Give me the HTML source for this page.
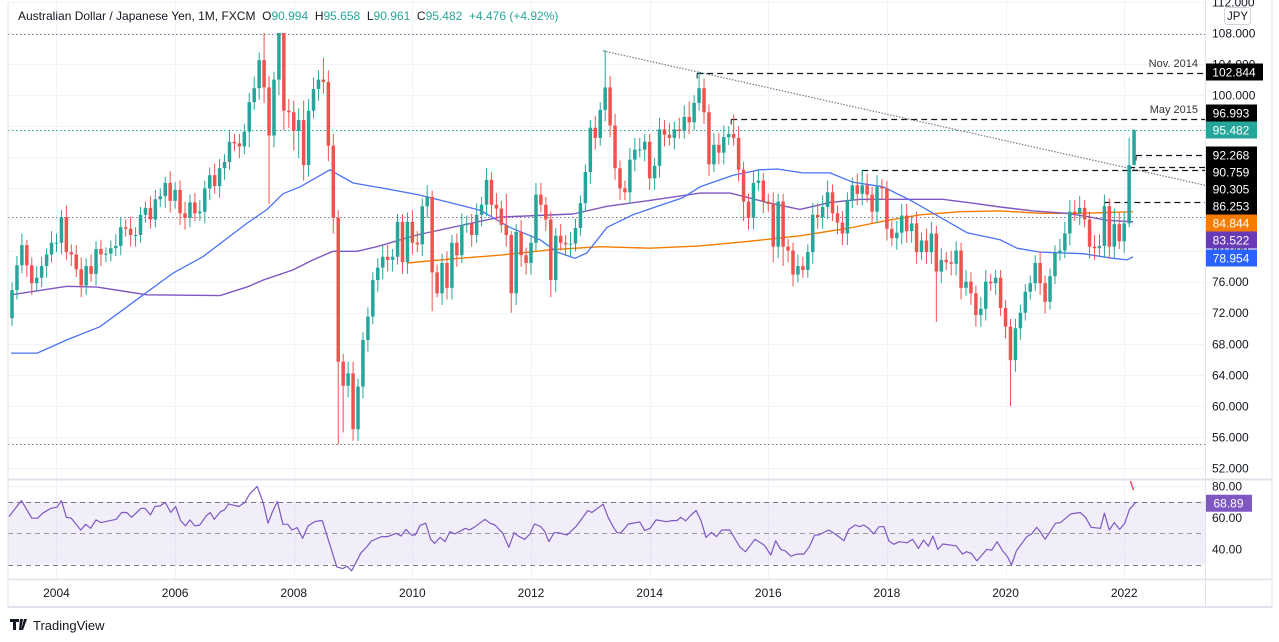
<!DOCTYPE html>
<html><head><meta charset="utf-8"><style>
html,body{margin:0;padding:0;background:#fff;width:1279px;height:642px;overflow:hidden}
svg{display:block;font-family:"Liberation Sans",sans-serif}
</style></head><body>
<svg id="chart" width="1279" height="642" viewBox="0 0 1279 642" xmlns="http://www.w3.org/2000/svg">
<rect x="0" y="0" width="1279" height="642" fill="#fff"/>
<g id="grid"></g>
<g id="levels"></g>
<g id="mas"></g>
<g id="candles"></g>
<g id="rsi"></g>
<g id="axes"></g>
<g id="frame">
<line x1="8" y1="2" x2="8" y2="607" stroke="#e0e3eb"/>
<line x1="8" y1="607" x2="1272" y2="607" stroke="#e0e3eb" stroke-width="2"/>
<line x1="1272" y1="0" x2="1272" y2="607" stroke="#e0e3eb"/>
<line x1="1205.5" y1="0" x2="1205.5" y2="607" stroke="#e0e3eb"/>
<line x1="8" y1="479.5" x2="1272" y2="479.5" stroke="#e0e3eb" stroke-width="2"/>
<line x1="8" y1="579.5" x2="1272" y2="579.5" stroke="#e0e3eb" stroke-width="1.5"/>
</g>
<text x="18" y="20" font-size="12" fill="#131722" xml:space="preserve">Australian Dollar / Japanese Yen, 1M, FXCM  O<tspan fill="#26a69a">90.994</tspan>  H<tspan fill="#26a69a">95.658</tspan>  L<tspan fill="#26a69a">90.961</tspan>  C<tspan fill="#26a69a">95.482</tspan>  <tspan fill="#26a69a">+4.476 (+4.92%)</tspan></text>
<rect x="1224.5" y="7.5" width="26" height="17" rx="3" fill="#fff" stroke="#d1d4dc"/>
<text x="1237.5" y="20" font-size="11.5" fill="#131722" text-anchor="middle">JPY</text>
<text x="1198" y="67" font-size="11" fill="#333" text-anchor="end">Nov. 2014</text>
<text x="1198" y="113" font-size="11" fill="#333" text-anchor="end">May 2015</text>
<g>
<path d="M10 619h9v3h-3v8h-3v-8h-3z M20 619h3l-2 11h-2z M24 619h3l-4 11h-2z" fill="#131722"/>
<text x="33" y="630" font-size="13" fill="#131722">TradingView</text>
</g>
</svg>
<script>
const closes=[74.9,78.1,80.7,78.1,75.8,76.5,78.0,79.5,81.0,81.0,84.3,79.8,
79.5,77.6,75.5,78.0,77.0,80.2,79.5,79.6,80.3,80.6,83.0,82.8,
82.0,82.0,84.6,85.5,84.0,86.6,87.0,88.7,86.4,87.8,84.8,84.2,
86.2,84.8,85.0,88.0,89.7,88.3,90.6,91.4,94.0,93.8,93.4,95.3,
99.1,100.9,104.5,101.0,94.8,102.0,108.0,98.0,97.8,95.4,96.8,91.0,
98.0,100.8,102.0,101.7,93.5,84.2,65.7,62.6,64.2,57.0,62.5,68.5,
71.5,76.2,77.8,79.2,78.8,79.2,83.7,78.5,83.7,81.0,80.8,85.7,
86.9,77.2,74.5,78.4,75.2,81.0,79.4,83.3,83.5,82.0,84.6,85.9,
89.1,85.9,85.4,83.3,82.0,74.5,82.4,79.4,78.4,81.0,87.2,85.9,
84.0,76.2,81.9,81.0,80.8,80.9,82.9,86.1,90.1,95.8,94.5,98.1,
101.0,96.1,90.6,88.0,87.5,91.7,93.0,93.0,94.0,89.3,90.9,95.6,
94.9,94.5,95.6,95.4,97.2,96.5,99.0,100.9,97.8,91.1,93.6,92.6,
94.6,95.0,94.5,90.4,86.3,84.2,88.7,89.0,86.3,86.0,80.5,86.3,
80.5,80.0,76.9,78.0,77.5,79.8,84.6,84.3,85.6,87.5,84.8,83.6,
82.2,86.5,88.4,87.3,88.4,87.2,85.0,88.2,88.0,82.8,81.6,82.3,
84.5,82.5,83.5,79.8,81.3,79.8,82.2,77.3,78.8,78.5,78.3,80.0,
75.2,76.0,74.5,71.7,72.5,76.0,75.8,76.5,72.6,70.2,65.9,70.0,
72.0,74.7,75.8,78.4,75.8,73.4,76.7,79.7,80.0,82.2,85.0,84.8,
85.5,84.0,80.5,80.3,80.6,85.7,80.5,83.4,81.2,83.5,91.0,95.482];
const firstOpen=71.3;
const upperShadow=[1.0,1.2,1.5,0.7,1.0,1.5,1.2,0.8,1.5,1.2,0.9,1.5,
1.0,1.2,1.5,1.0,1.5,1.0,1.2,0.8,1.0,1.5,1.2,1.0,
1.5,1.0,1.0,0.8,1.5,1.2,1.0,0.8,1.5,1.0,1.2,1.5,
1.0,1.2,1.5,1.0,1.0,1.5,1.2,1.0,1.5,1.0,1.2,1.0,
1.2,1.5,1.0,3.5,1.5,1.0,0.0,0.0,1.5,1.5,1.5,2.5,
1.5,1.5,1.2,2.8,1.5,1.5,1.0,1.0,1.5,1.5,1.0,1.0,
1.2,1.0,1.2,1.5,1.5,1.0,1.0,1.0,1.2,1.5,1.5,1.0,
1.5,0.8,1.0,1.2,1.5,1.0,1.2,1.5,1.0,1.2,1.5,1.0,
1.5,1.0,1.5,1.0,4.0,0.5,1.0,1.5,1.0,1.0,1.5,1.5,
1.0,1.0,1.0,1.5,1.0,1.5,1.2,1.0,1.0,1.0,1.5,1.0,
4.8,1.5,1.5,1.0,1.0,1.5,1.5,1.5,1.0,1.0,1.0,1.5,
1.2,1.5,1.0,1.5,1.5,2.0,1.0,2.1,1.2,1.0,1.5,1.5,
1.5,1.0,2.5,1.5,1.0,1.0,1.5,1.5,1.0,1.0,1.5,1.0,
1.0,1.0,1.0,1.5,1.2,1.0,1.5,1.5,1.5,1.5,1.0,1.0,
1.5,1.0,1.0,1.5,2.0,1.5,1.0,1.5,1.0,1.0,1.0,1.5,
1.5,1.5,1.0,1.5,1.0,1.5,1.5,1.0,1.5,1.0,1.5,1.2,
1.0,1.5,1.2,1.0,1.5,1.5,1.0,1.0,1.0,1.0,1.0,1.2,
1.0,1.0,1.0,1.0,1.5,1.0,1.0,1.0,1.5,1.5,1.5,1.5,
1.5,1.0,1.0,1.5,1.5,1.5,1.0,2.0,1.5,1.5,3.5,0.2];
const lowerShadow=[1.0,1.2,1.0,1.5,1.5,1.0,1.2,1.5,1.0,1.2,1.5,1.0,
1.5,1.0,1.5,1.2,1.0,1.5,1.5,1.0,1.0,1.0,1.2,1.0,
1.5,1.5,1.0,1.0,1.2,1.0,1.0,1.5,1.5,1.0,1.5,1.5,
1.2,1.0,1.0,1.5,1.5,1.0,1.5,1.5,1.0,1.0,1.5,1.0,
2.0,1.0,1.5,2.0,8.8,1.5,2.0,2.5,2.0,2.5,3.5,2.0,
1.5,1.0,1.5,1.5,2.0,2.0,10.7,6.0,1.5,1.5,1.5,1.5,
1.5,1.0,1.5,1.5,1.5,1.5,1.0,1.5,1.5,1.5,1.0,1.5,
1.5,5.0,0.5,1.5,1.5,1.5,1.5,1.0,1.0,1.5,1.0,1.5,
1.5,1.5,1.5,1.0,1.5,2.5,1.5,1.5,1.5,1.5,1.0,1.0,
1.5,2.2,1.5,1.0,1.5,1.5,1.0,1.0,1.0,1.5,1.5,1.0,
1.5,1.5,1.5,1.5,1.0,1.5,1.5,1.0,1.5,1.5,1.5,1.5,
1.5,1.0,1.5,1.0,1.0,1.5,1.0,1.0,1.5,1.5,1.0,1.5,
1.5,1.0,1.0,1.5,2.5,1.5,1.5,1.0,1.5,1.0,2.0,1.5,
2.5,1.5,1.5,1.0,1.0,1.0,1.5,1.5,1.5,1.5,1.0,1.5,
1.5,1.5,1.0,1.5,1.5,1.0,1.5,1.5,1.5,1.5,1.0,1.5,
1.5,1.5,1.5,1.5,1.0,1.5,1.5,6.5,1.5,1.0,1.5,1.5,
1.5,1.0,1.5,1.5,1.5,1.5,1.0,1.5,1.0,1.5,5.9,1.5,
1.5,1.0,1.0,1.0,1.5,1.5,1.0,1.0,1.0,1.0,1.5,1.0,
1.5,1.0,1.5,1.5,1.0,1.5,1.5,1.5,1.0,1.5,0.5,0.0];
const ma50Idx=[-0.2,5.1,11.1,17.8,25.9,32.6,38.6,47.5,51.6,54.8,58.3,64.3,69.0,74.4,82.1,86.6,94.7,100.7,106.8,110.3,113.9,116.3,120.4,125.6,129.7,135.7,139.2,145.9,151.3,154.8,160.0,165.5,170.1,176.2,181.7,187.7,193.2,199.9,203.3,208.0,216.7,222.7,225.6,226.8];
const ma50Val=[66.8,66.8,68.5,70.2,74.0,77.1,79.2,83.5,85.3,87.3,88.2,90.4,88.7,88.1,87.2,86.5,85.2,83.0,81.4,79.8,79.0,79.7,83.0,84.6,85.5,86.8,88.2,89.7,90.4,90.5,90.0,90.0,88.8,88.2,86.5,84.3,82.3,81.4,80.3,79.8,79.6,79.0,78.8,79.2];
const ma100Idx=[-0.2,11.1,17.2,27.3,42.1,47.5,50.8,56.8,60.9,64.9,69.8,73.8,81.9,98.7,113.5,120.4,128.5,139.2,145.3,152.7,159.4,165.5,171.6,179.6,188.3,194.4,199.9,206.6,213.4,218.1,221.5,226.8];
const ma100Val=[74.3,75.4,75.3,74.3,74.2,75.3,76.2,77.5,78.8,79.9,79.9,80.5,82.0,84.3,84.7,85.7,86.4,87.4,87.4,86.2,85.3,86.2,86.6,86.6,86.6,86.1,85.6,85.1,84.8,84.3,83.9,83.7];
const ma200Idx=[79.9,88.6,98.7,108.8,119.0,129.1,139.2,149.3,159.4,169.5,175.6,183.7,191.8,199.9,208.0,216.1,226.8];
const ma200Val=[78.4,78.9,79.4,80.1,80.5,80.3,80.6,81.2,81.9,82.9,83.7,84.6,85.0,85.1,84.8,84.8,85.0];
const rsiIdx=[-0.6,1.9,4.0,5.2,6.2,7.9,9.1,10,11,12,13.9,14.9,15.9,17,18,21.1,22.2,23.2,24.2,26.1,26.9,28,28.9,30,31,32.1,33.1,34.1,35.1,36,37,38,39.3,40.1,40.9,42.2,43,43.8,45.9,47.1,48.1,49.6,50.8,51.8,52.7,53.7,54.8,55.8,56.6,57.7,58.8,59.9,61.2,62.4,62.8,65.7,66.9,67.8,68.7,70.6,71.7,72.7,74.8,76,77.7,78.7,79.7,80.8,81.6,82.6,83.7,84.7,85.5,86.6,87.6,88.6,89.6,91.7,92.5,93.5,95.7,96.7,97.7,99.3,100.5,101.6,102.4,103.7,104.8,105.7,107,107.8,108.6,109.7,110.5,112.3,114.2,116.5,117.3,119.6,120.6,121.6,122.4,123.2,124.7,127,128,129.1,130.3,132.4,133.5,134.5,135.3,136.3,137.4,138.4,139.4,140.4,141.5,142.5,143.6,145.2,147.3,148.4,150.3,152.2,153.5,154.5,155.5,156.4,157.6,158.8,160.2,161.3,162.4,163.2,165.2,166.5,168.3,169.3,170.6,171.5,172.3,173.3,174.3,175.4,176.4,177.4,178.4,179.5,181.1,182.2,183.4,184.4,185.4,186.3,187.3,188.3,191,192.3,193.1,194.1,195.2,197.2,198.2,199.3,200.4,201.4,202.2,203.2,205.3,206.3,207.3,208,209,211.1,212.1,214.2,216.1,217.2,218.3,220.2,221,222,223,224.1,225.1,226.1,227.4];
const rsiVal=[60.4,70.6,59.4,59.4,62.6,65.7,66.4,70.6,60,59.4,51.9,55.5,53,58.3,56.6,58.7,63,63,60,65.7,65.7,61.5,66.8,67.2,69.4,63,66.8,57.9,54.5,58.3,54.5,55.1,60.9,63,58.7,63.6,64.7,68.5,66.8,69.4,74.9,79.6,69.4,56.2,63.6,70,55.5,55.5,51.9,53.4,46.6,54.5,57.2,57.9,57.7,28.5,27.4,28.9,26,37.4,40.9,44.9,47.7,47.7,49.8,48.1,52.3,48.7,48.7,54.9,56.2,46,43.4,47.2,44.5,50.9,49.4,53,51.9,53.6,58.7,56.2,55.1,49.8,40.9,50.2,48.1,46,49.4,55.7,54,50.9,44.5,50.2,50.2,48.7,54.5,64.3,63,68.3,60,54,50.2,50.2,55.7,57,51.5,53,58.3,57.2,57.9,57.9,60,57.7,61.5,64.3,57.7,47.2,50.4,47.7,51.9,51.9,40.9,38.1,46,42.3,36,45.1,39.6,38.7,35.3,36.6,36.6,41.3,48.7,48.7,51.9,49.4,45.1,52.3,55.1,54,55.1,53,49.4,54,54,44.9,42.8,44.5,43.8,46,40.2,45.5,41.7,48.1,39.6,43,41.9,36.6,38.1,37,32.3,39.6,39.1,44.5,38.7,34.9,29.6,38.7,47.7,49.4,53.6,50.9,46,56.2,56.6,62.1,63,60,53.6,53,62.6,51.9,56.6,52.3,56.2,65.1,69.6];
const priceTicks=[112,108,104,100,96,92,88,84,80,76,72,68,64,60,56,52];
const rsiTicks=[80,60,40];
const rsiBands=[70,50,30];
const yearLabels=[2004,2006,2008,2010,2012,2014,2016,2018,2020,2022];
const levelValues=[102.844,96.993,92.268,90.759,90.305,86.253];
const levelStartIdx=[138.6,145.5,227.4,226.0,172.0,221.0];
const dottedLevels=[107.85,84.3,55.1];
const trendIdx=[119.6,241.4];
const trendVal=[105.7,88.4];
const lastPrice=95.482, lastRsi=68.89;
const badgeValues=["102.844","96.993","95.482","92.268","90.759","90.305","86.253","84.844","83.522","78.954"];

const NS="http://www.w3.org/2000/svg";
const X0=12,DX=4.943,PTOP=33,PMAX=108,PPX=7.77,RMID=533,RPX=1.575,PLOT_R=1205;
function xOf(i){return X0+i*DX;}
function yOf(p){return PTOP+(PMAX-p)*PPX;}
function rY(v){return RMID-(v-50)*RPX;}
function mk(tag,attrs,parent){const e=document.createElementNS(NS,tag);for(const k in attrs)e.setAttribute(k,attrs[k]);parent.appendChild(e);return e;}
const G=id=>document.getElementById(id);

const grid=G('grid');
priceTicks.forEach(t=>{const y=Math.round(yOf(t))+0.5;if(y<0||y>478)return;
 const l=mk('line',{x1:8,x2:PLOT_R,y1:y,y2:y,stroke:'#f0f3fa'},grid);
 
 });
yearLabels.forEach(yr=>{const x=Math.round(xOf((yr-2003)*12-3))+0.5;
 const l=mk('line',{x1:x,x2:x,y1:0,y2:579,stroke:'#f0f3fa'},grid);
 
 });

const lv=G('levels');
dottedLevels.forEach(v=>{const y=Math.round(yOf(v))+0.5;
 const l=mk('line',{x1:8,x2:PLOT_R,y1:y,y2:y,stroke:'#787b86','stroke-width':1,'stroke-dasharray':'1.5 2.5'},lv);
 
 });
{const y=Math.round(yOf(lastPrice))+0.5;
 const l=mk('line',{x1:8,x2:PLOT_R,y1:y,y2:y,stroke:'#26a69a','stroke-dasharray':'1.5 2.5'},lv);
 
 }
{const t=mk('line',{x1:xOf(trendIdx[0]),y1:yOf(trendVal[0]),x2:xOf(trendIdx[1]),y2:yOf(trendVal[1]),stroke:'#787b86','stroke-width':1.2,'stroke-dasharray':'1.5 1.5'},lv);
 
 }
levelValues.forEach((v,k)=>{const y=Math.round(yOf(v))+0.5,x=xOf(levelStartIdx[k]);
 const l=mk('line',{x1:x,x2:PLOT_R,y1:y,y2:y,stroke:'#131722','stroke-width':1.3,'stroke-dasharray':'6 4'},lv);
 
 
 const t=mk('line',{x1:x,x2:x,y1:y,y2:y+5,stroke:'#131722','stroke-width':1},lv);
 
 });

const mas=G('mas');
function poly(idx,val,yf,color,name,parent,w){const pts=idx.map((i,k)=>xOf(i).toFixed(1)+','+yf(val[k]).toFixed(1)).join(' ');
 const p=mk('polyline',{points:pts,fill:'none',stroke:color,'stroke-width':w||1.3,'stroke-linejoin':'round'},parent);
 
 }
poly(ma200Idx,ma200Val,yOf,'#f57c00','sma-200-line',mas,1.4);
poly(ma100Idx,ma100Val,yOf,'#7e57c2','sma-100-line',mas,1.4);
poly(ma50Idx,ma50Val,yOf,'#4a72f5','sma-50-line',mas,1.3);

const cg=G('candles');
closes.forEach((c,i)=>{const o=i===0?firstOpen:closes[i-1];
 const hi=Math.max(o,c)+upperShadow[i],lo=Math.min(o,c)-lowerShadow[i];
 const col=c>=o?'#26a69a':'#ef5350';const x=xOf(i);
 const w=mk('line',{x1:x,x2:x,y1:yOf(hi),y2:yOf(lo),stroke:col,'stroke-width':1},cg);
 
 
 const yt=yOf(Math.max(o,c)),yb=yOf(Math.min(o,c));
 const b=mk('rect',{x:x-1.75,y:yt,width:3.5,height:Math.max(1,yb-yt),fill:col},cg);
 
 });

const rg=G('rsi');
{const b=mk('rect',{x:8,y:rY(rsiBands[0]),width:PLOT_R-8,height:rY(rsiBands[2])-rY(rsiBands[0]),fill:'#7e57c2','fill-opacity':0.1},rg);
 
 }
rsiTicks.forEach(t=>{const y=Math.round(rY(t))+0.5;
 const l=mk('line',{x1:8,x2:PLOT_R,y1:y,y2:y,stroke:'#f0f3fa'},rg);
 
 });
rsiBands.forEach((v,k)=>{const y=Math.round(rY(v))+0.5;
 const l=mk('line',{x1:8,x2:PLOT_R,y1:y,y2:y,stroke:k===1?'#9598a1':'#787b86','stroke-dasharray':'5 4','stroke-width':1},rg);
 
 });
poly(rsiIdx,rsiVal,rY,'#7e57c2','rsi-line',rg,1.2);
{const d=mk('line',{x1:1130.5,y1:481,x2:1133.5,y2:490,stroke:'#f23645','stroke-width':1.3},rg);
 
 }

const ax=G('axes');
priceTicks.forEach(t=>{const y=yOf(t);if(y<-5||y>478)return;
 const tx=mk('text',{x:1212,y:y+4.5,'font-size':12,fill:'#131722'},ax);tx.textContent=t.toFixed(3);
 
 });
rsiTicks.forEach(t=>{const tx=mk('text',{x:1212,y:rY(t)+4.5,'font-size':12,fill:'#131722'},ax);tx.textContent=t.toFixed(2);
 
 });
yearLabels.forEach(yr=>{const tx=mk('text',{x:xOf((yr-2003)*12-3),y:597,'font-size':12,fill:'#131722','text-anchor':'middle'},ax);tx.textContent=yr;
 
 });
const badgeY=[72,113,130,155,172,189,206,223,240,258];
const badgeCol=['#000','#000','#26a69a','#000','#000','#000','#000','#f57c00','#673ab7','#2962ff'];
const badgeW=[58,52,52,52,52,52,52,52,52,52];
badgeValues.forEach((v,k)=>{const r=mk('rect',{x:1205,y:badgeY[k]-8.5,width:badgeW[k],height:17,fill:badgeCol[k]},ax);
 
 
 const tx=mk('text',{x:1231+(badgeW[k]-52)/2,y:badgeY[k]+4.5,'font-size':12,fill:'#fff','text-anchor':'middle'},ax);tx.textContent=v;
 
 });
{const y=rY(lastRsi);const r=mk('rect',{x:1205,y:y-8.5,width:47,height:17,fill:'#7e57c2'},ax);
 
 
 const tx=mk('text',{x:1228.5,y:y+4.5,'font-size':12,fill:'#fff','text-anchor':'middle'},ax);tx.textContent=lastRsi.toFixed(2);
 
 }
</script>
</body></html>
